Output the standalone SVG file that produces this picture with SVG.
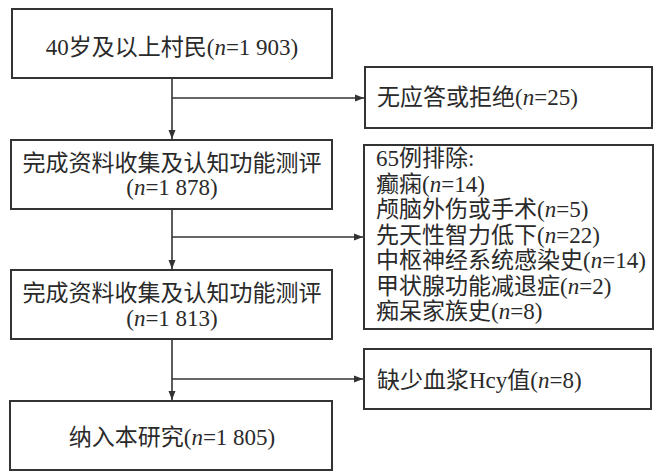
<svg xmlns="http://www.w3.org/2000/svg" width="654" height="471" viewBox="0 0 654 471">
<style>
.box{fill:#fff;stroke:#333;stroke-width:2}
.t{font-family:"Liberation Serif","Noto Sans CJK SC",serif;font-size:23px;fill:#2a2a2a}
.c{text-anchor:middle}
.i{font-style:italic}
.ln{fill:none;stroke:#333;stroke-width:1.6}
</style>
<defs>
<marker id="ah" markerUnits="userSpaceOnUse" markerWidth="10" markerHeight="8" refX="9" refY="4" orient="auto">
<path d="M0,0.5 L9,4 L0,7.5 Z" fill="#333"/>
</marker>
</defs>
<rect width="654" height="471" fill="#fff"/>
<g id="connectors">
<path class="ln" d="M172,78 V139" marker-end="url(#ah)"/>
<path class="ln" d="M172,98 H364" marker-end="url(#ah)"/>
<path class="ln" d="M172,209 V269" marker-end="url(#ah)"/>
<path class="ln" d="M172,237 H363" marker-end="url(#ah)"/>
<path class="ln" d="M172,339 V400" marker-end="url(#ah)"/>
<path class="ln" d="M172,379 H363" marker-end="url(#ah)"/>
</g>
<g id="n1">
<rect class="box" x="12" y="9" width="320" height="69"/>
<text class="t c" x="172" y="55">40岁及以上村民(<tspan class="i">n</tspan>=1 903)</text>
</g>
<g id="n2">
<rect class="box" x="365" y="67" width="287" height="61"/>
<text class="t" x="377" y="105">无应答或拒绝(<tspan class="i">n</tspan>=25)</text>
</g>
<g id="n3">
<rect class="box" x="11" y="140" width="321" height="69"/>
<text class="t c" x="172" y="171">完成资料收集及认知功能测评</text>
<text class="t c" x="172" y="195">(<tspan class="i">n</tspan>=1 878)</text>
</g>
<g id="n4">
<rect class="box" x="364" y="145" width="289" height="184"/>
<text class="t" x="376" y="166">65例排除:</text>
<text class="t" x="376" y="191.5">癫痫(<tspan class="i">n</tspan>=14)</text>
<text class="t" x="376" y="217">颅脑外伤或手术(<tspan class="i">n</tspan>=5)</text>
<text class="t" x="376" y="242.5">先天性智力低下(<tspan class="i">n</tspan>=22)</text>
<text class="t" x="376" y="268">中枢神经系统感染史(<tspan class="i">n</tspan>=14)</text>
<text class="t" x="376" y="293.5">甲状腺功能减退症(<tspan class="i">n</tspan>=2)</text>
<text class="t" x="376" y="319">痴呆家族史(<tspan class="i">n</tspan>=8)</text>
</g>
<g id="n5">
<rect class="box" x="11" y="270" width="321" height="69"/>
<text class="t c" x="172" y="301">完成资料收集及认知功能测评</text>
<text class="t c" x="172" y="326">(<tspan class="i">n</tspan>=1 813)</text>
</g>
<g id="n6">
<rect class="box" x="364" y="349" width="287" height="60"/>
<text class="t" x="377" y="388">缺少血浆Hcy值(<tspan class="i">n</tspan>=8)</text>
</g>
<g id="n7">
<rect class="box" x="10" y="401" width="322" height="69"/>
<text class="t c" x="172" y="445">纳入本研究(<tspan class="i">n</tspan>=1 805)</text>
</g>
</svg>
